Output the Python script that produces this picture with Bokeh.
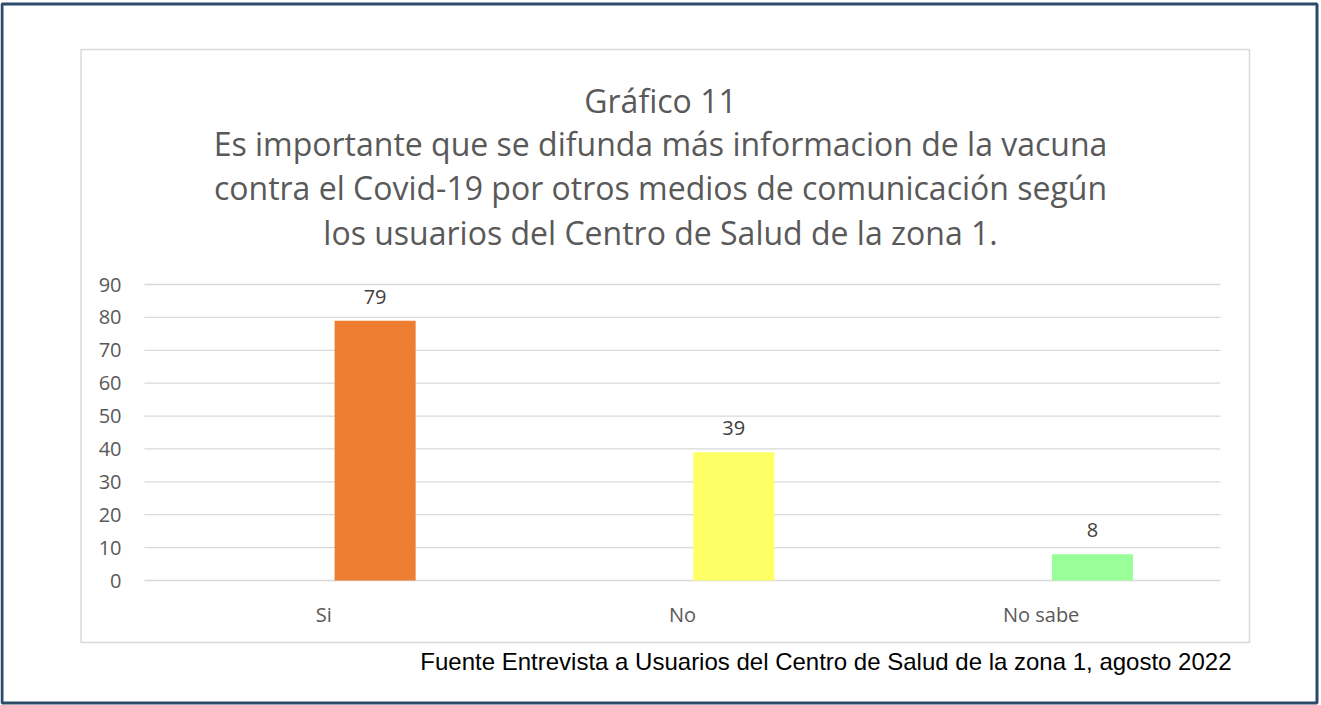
from bokeh.plotting import figure
from bokeh.models import (ColumnDataSource, FixedTicker, Label, LinearAxis,
                          BoxAnnotation, Range1d)
from bokeh.transform import dodge
from bokeh.core.properties import value
from bokeh.embed import file_html
from bokeh.resources import INLINE

categories = ["Si", "No", "No sabe"]
counts = [79, 39, 8]
bar_colors = ["#ED7D31", "#FFFF66", "#99FF99"]
y_ticks = [0, 10, 20, 30, 40, 50, 60, 70, 80, 90]
title_lines = [
    "Gráfico 11",
    "Es importante que se difunda más informacion de la vacuna",
    "contra el Covid-19 por otros medios de comunicación según",
    "los usuarios del Centro de Salud de la zona 1.",
]
footer = "Fuente Entrevista a Usuarios del Centro de Salud de la zona 1, agosto 2022"

# ---- layout (canvas pixels) ----
W, H = 1321, 705
PL, PR, PT, PB = 144, 1220, 284, 580      # plot area edges
Y_MAX = 90
FONT = "Open Sans"
GREY = "#595959"

n = len(categories)
px_x = (PR - PL) / n
px_y = (PB - PT) / Y_MAX
x_start = -0.5 - PL / px_x
x_end = x_start + W / px_x
y_start = -(H - PB) / px_y
y_end = PB / px_y

idx = list(range(n))
src = ColumnDataSource(dict(idx=idx, val=counts, color=bar_colors,
                            lab=[str(v) for v in counts]))
grid_src = ColumnDataSource(dict(y=y_ticks, x0=[-0.5] * len(y_ticks),
                                 x1=[n - 0.5] * len(y_ticks)))

p = figure(width=W, height=H, output_backend="svg", toolbar_location=None,
           x_range=Range1d(x_start, x_end), y_range=Range1d(y_start, y_end),
           x_axis_location=None, y_axis_location=None, min_border=0, tools="")
p.outline_line_color = None
p.background_fill_color = "white"
p.border_fill_color = "white"
p.grid.visible = False

# gridlines over the plot area
p.segment(x0="x0", x1="x1", y0="y", y1="y", source=grid_src,
          line_color="#D9D9D9", line_width=1.3)

p.vbar(x=dodge("idx", 0.143), top="val", width=0.226,
       source=src, fill_color="color", line_color=None)
p.text(x=dodge("idx", 0.143), y="val", text="lab", source=src,
       text_align="center", text_baseline="middle", y_offset=-24,
       text_font=value(FONT), text_font_size="20px", text_color="#404040")

yaxis = LinearAxis(fixed_location=-0.5, ticker=FixedTicker(ticks=y_ticks))
xaxis = LinearAxis(fixed_location=0, ticker=FixedTicker(ticks=idx),
                   major_label_overrides={i: c for i, c in zip(idx, categories)})
for ax in (xaxis, yaxis):
    ax.axis_line_color = None
    ax.major_tick_line_color = None
    ax.minor_tick_line_color = None
    ax.major_tick_in = 0
    ax.major_tick_out = 0
    ax.major_label_text_font = FONT
    ax.major_label_text_font_size = "20px"
    ax.major_label_text_color = GREY
yaxis.major_label_standoff = 23
xaxis.major_label_standoff = 20
p.add_layout(yaxis, "left")
p.add_layout(xaxis, "below")

# frames
p.add_layout(BoxAnnotation(left=1.5, right=W - 4.5, top=3.5, bottom=H - 2.5,
                           left_units="canvas", right_units="canvas",
                           top_units="canvas", bottom_units="canvas",
                           fill_color=None, fill_alpha=0,
                           line_color="#2C4A6A", line_width=3, line_alpha=1))
p.add_layout(BoxAnnotation(left=80.5, right=1249, top=49, bottom=642,
                           left_units="canvas", right_units="canvas",
                           top_units="canvas", bottom_units="canvas",
                           fill_color=None, fill_alpha=0,
                           line_color="#D9D9D9", line_width=1.5, line_alpha=1))

title_y = [100, 143, 187, 232]
for t, y in zip(title_lines, title_y):
    p.add_layout(Label(x=660, y=y, x_units="canvas", y_units="canvas", text=t,
                       text_align="center", text_baseline="middle",
                       text_font=FONT, text_font_size="32px", text_color=GREY))

p.add_layout(Label(x=1231, y=661, x_units="canvas", y_units="canvas", text=footer,
                   text_align="right", text_baseline="middle",
                   text_font="Liberation Sans", text_font_size="24px",
                   text_color="#000000"))

open("out.html", "w").write(file_html(p, INLINE))
